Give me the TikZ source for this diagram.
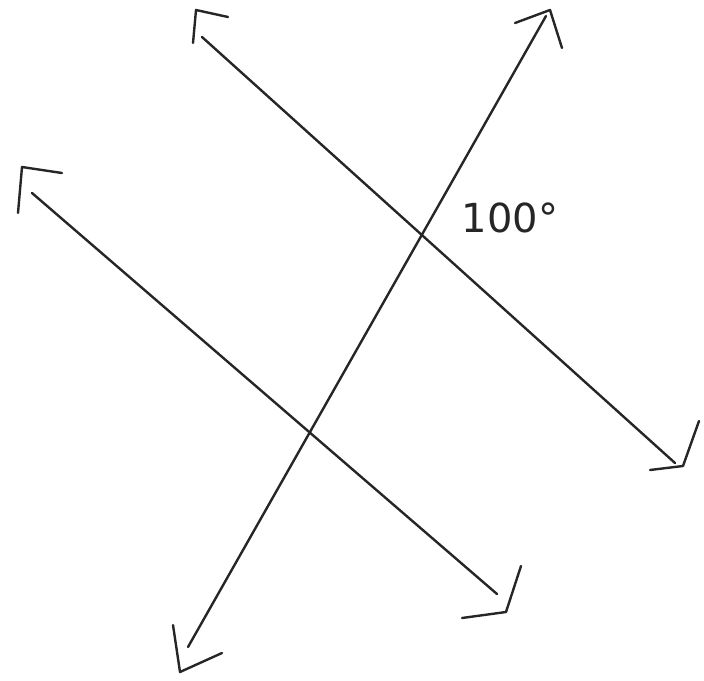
\documentclass[tikz,border=0pt]{standalone}
\usepackage{fontspec}
\usetikzlibrary{positioning}
\newfontfamily\labelfont{DejaVu Sans}

\begin{document}
\begin{tikzpicture}[
  x=1pt, y=-1pt,
  pen/.style={line width=2.4pt, black!85, line cap=round, line join=round},
  label/.style={font=\labelfont\fontsize{40}{40}\selectfont, black!85, inner sep=0pt},
]
  \useasboundingbox (0,0) rectangle (704,680);
  % upper parallel line
  \coordinate (upstart) at (202,37);
  \coordinate (upend) at (675,463);
  \coordinate (uptipa) at (196,10);
  \coordinate (uptipb) at (683,466);
  % lower parallel line
  \coordinate (lowstart) at (32,193);
  \coordinate (lowend) at (497,594);
  \coordinate (lowtipa) at (22,167);
  \coordinate (lowtipb) at (506,612);
  % transversal
  \coordinate (trstart) at (188,647);
  \coordinate (trend) at (546,16);
  \coordinate (trtipa) at (180,672);
  \coordinate (trtipb) at (550,10);

  \draw[pen] (upstart) -- (upend);
  \draw[pen] (lowstart) -- (lowend);
  \draw[pen] (trstart) -- (trend);

  % hand drawn arrow heads
  \draw[pen] (193,43) -- (uptipa) -- (228,17);
  \draw[pen] (650,470) -- (uptipb) -- (699,421);
  \draw[pen] (18,213) -- (lowtipa) -- (62,173);
  \draw[pen] (462,618) -- (lowtipb) -- (521,566);
  \draw[pen] (173,625) -- (trtipa) -- (222,653);
  \draw[pen] (515,23) -- (trtipb) -- (562,48);

  \node[label] (angle) at (510,218) {100°};
\end{tikzpicture}
\end{document}
